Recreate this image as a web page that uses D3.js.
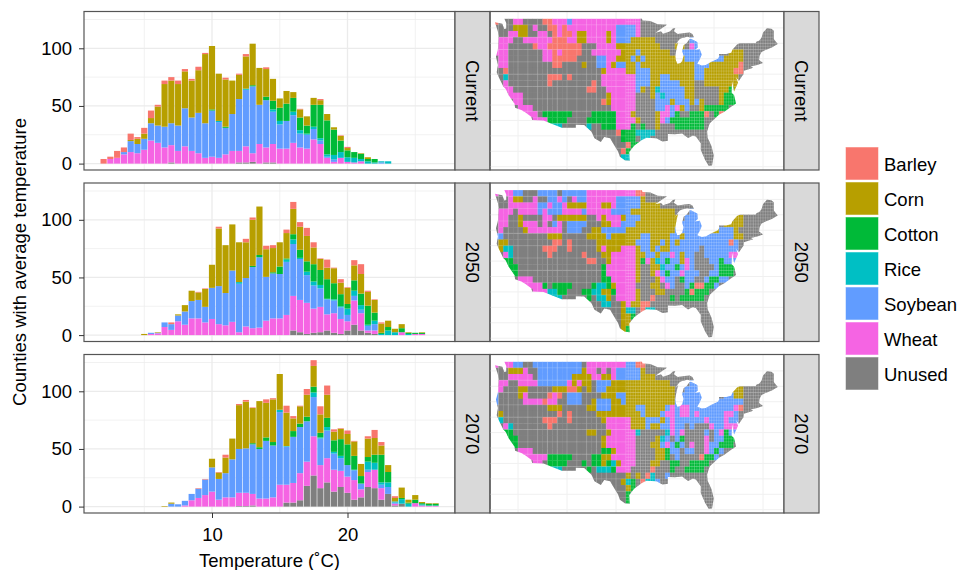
<!DOCTYPE html>
<html>
<head>
<meta charset="utf-8">
<script src="https://cdn.jsdelivr.net/npm/d3@7"></script>
<style>
html, body { margin: 0; padding: 0; background: #fff; overflow: hidden; }
text { font-family: "Liberation Sans", Arial, sans-serif; fill: #000; }
</style>
</head>
<body>
<script>
var crops = ["Barley", "Corn", "Cotton", "Rice", "Soybean", "Wheat", "Unused"];
var cropColors = ["#F8766D", "#B79F00", "#00BA38", "#00BFC4", "#619CFF", "#F564E3", "#7F7F7F"];
var cropCodes = ["B", "C", "T", "R", "S", "W", "U"];
var periods = ["Current", "2050", "2070"];
var xTicks = [10, 20];
var xMinor = [5, 15, 25];
var yTicks = [0, 50, 100];
var yMinor = [25, 75, 125];

// Counties per half degree bin
var tempsCurrent = [2,2.5,3,3.5,4,4.5,5,5.5,6,6.5,7,7.5,8,8.5,9,9.5,10,10.5,11,11.5,12,12.5,13,13.5,14,14.5,15,15.5,16,16.5,17,17.5,18,18.5,19,19.5,20,20.5,21,21.5,22,22.5,23];
var unusedCurrent = [0,0,0,0,0,0,0,0,0,0, 1,0,0,0,0,0,0,0,0,0, 1,1,1.5,0,1,1,0,0,0,0, 0,0,0,0,0,0,0,0,0,0, 0,0,0];
var wheatCurrent = [0,4,5,8,10,9,12,20,18,14, 15,11,15,11,9,5,6,5,8,11, 10,14,7.5,17,13,16,13,13,18,14, 13,21,17,5,1.5,5,1.5,1,2,0, 0,0,0];
var soybeanCurrent = [0,0,0,2,9.5,8,9.5,15,15,18, 19,22,33,29,35,30,40,31,23,32, 45,49,58,34,41,28,21,24,24,12, 12,9,3,1,2,0,0,0,0,0, 0,1,0];
var riceCurrent = [0,0,0,0,0,0,0,0,0,0, 0,0,0,0,0,0,0,1,0,0, 0,1,0,0,0,2,3,0,3,3, 1,2,2,2,4,5,4,4,2,2, 1,1,2];
var cottonCurrent = [0,0,0,0,0,0,0,0,0,0, 0,0,0,0,0,0,1,0,1,0, 0,0,1,0,3,7.5,11.5,15,12,11, 7,19,29,29.5,22,10,6,5,4.5,2, 3,0,0];
var cornCurrent = [0,0,0,0,1,4.5,4.5,4.5,16.5,37, 37,36,32,32,37,60,55,41,41,29, 21,28,36,32,24,19,8,11,5,7, 8,6,4,5.5,2,4,2,0,0.5,1.5, 0,0,0];
var barleyCurrent = [4,2,6,4,5.5,1.5,5,6.5,1.5,3, 3,3,2,1.5,3,1,0,0,1.5,0, 1,2,0,0,1.5,0,0,0,0,0.5, 0,0,1,0,0,0.5,1,0,0,0, 0,0,0];

var temps2050 = [5,5.5,6,6.5,7,7.5,8,8.5,9,9.5,10,10.5,11,11.5,12,12.5,13,13.5,14,14.5,15,15.5,16,16.5,17,17.5,18,18.5,19,19.5,20,20.5,21,21.5,22,22.5,23,23.5,24,24.5,25,25.5];
var unused2050 = [0,0,0,0,0,0,0,0,0,0, 0,0,0,0,0,0,0,0,0,0, 0,0,4,2.5,1,2,2.5,4,2,1, 4,9,4,2,1,0,0,0,0,0, 0,0];
var wheat2050 = [0,1,1.5,7,4.5,12,9,14.5,14.5,11, 14,9.5,8.5,11.5,2.5,7.5,6,6.5,12.5,14.5, 14.5,17.5,30,28,27,21,22,14,17,13, 8,21,15,2,3,0,0,0,2.5,0, 1,1];
var soybean2050 = [0,1,0.5,4,5,5,11.5,15,16,13.5, 27,33,28,44.5,42,42,53,61,38,39, 38.5,46,45,35.5,24,20,16,13,11,10, 5.5,4,3,4,5.5,0,0,0,0,0, 0,0];
var rice2050 = [0,0,0,0,0,0,0,0,0,0, 0,0,0,0,1.5,0,0,0,0,0, 0,2,4,1,3,3.5,3,0.5,1,1, 5.5,4.5,4,1,3,1,4,2.5,0,1, 0,0];
var cotton2050 = [0,0,0,0,0,0,0,0,0,0, 0,0,0,0,0,0,1,2,0,1, 6.5,1,4.5,7,9,15,13,17,14,10.5, 4,9,10,16.5,7,1,3,0,3.5,1, 1,1];
var corn2050 = [1,0,0.5,0,0,1,5.5,9,6.5,15.5, 20,50,41.5,40,34.5,31,40,42,24,21, 21,22,22,20,22,14.5,9.5,10,13,10, 14,13,17,12,11,8,5.5,3,3.5,0.5, 0,0.5];
var barley2050 = [0,0,0,0,1.5,0,0,0,0.5,0.5, 0,1.5,0,0,0,3,2,0,3,2.5, 0,3,6,4,7,4.5,0.5,7,0.5,3, 0.5,4.5,8.5,1,0.5,1,0,0,0,0, 0,0];

var temps2070 = [6.5,7,7.5,8,8.5,9,9.5,10,10.5,11,11.5,12,12.5,13,13.5,14,14.5,15,15.5,16,16.5,17,17.5,18,18.5,19,19.5,20,20.5,21,21.5,22,22.5,23,23.5,24,24.5,25,25.5,26,26.5];
var unused2070 = [0,0,0,0,0,0,0,0,0,0, 0,0.5,0.5,1,0,0,0,0,3.5,3.5, 5.5,18,27,16,21,13,17,12,6,8, 17,16,6,11,1,2.5,0,0,0,0, 0];
var wheat2070 = [0,0,0,1,5.5,7.5,10,13,6,8, 8,11.5,11.5,10,7,7,8,19,15.5,17, 23.5,21,34,20,21,19,14,14,17,7, 13,16,10,0,1.5,0,0,3,1,0.5, 0.5];
var soybean2070 = [0,2.5,2,4,5.5,8,13.5,21,18,21, 33,38,38.5,43,43,50,45,63,33,40, 40,35,34,23,24,14,11,10,8.5,5, 2,0,3,6,1,0,0,0,0,0, 0];
var rice2070 = [0,0,0,0,0,0,0,0,0,0, 0,0,0,0,0,0,0,2,0.5,0, 0,0,4,1,3,1.5,2,0,0.5,0, 7,6,2,4,1,4,2.5,0,1,0.5, 0.5];
var cotton2070 = [0,0,0,0,0,0,0,0,0,0, 0,0,0,1,1.5,3,3,0,0,5, 3,4,5,4,8,10,14.5,18,12,6.5, 4,7,24,9,0,1,1,3,1,1.5, 1.5];
var corn2070 = [0.5,1,0,0,0,0,0,7.5,5.5,13.5, 18,38,40.5,30.5,40,30,37,31,29,11, 15,19,18,16,20,7.5,9,9,12.5,10.5, 16,14.5,8,6,3,9,2.5,4,1,0.5, 0.5];
var barley2070 = [0,0,0,0,0,0.5,0.5,0,0.5,2.5, 0,1,1.5,0.5,0,3,1,0,6,2, 0.5,5,5,7,8,2,0.5,3,0.5,0, 2,7,3,0,1.5,0,0,0,0,0, 0];

var stacksByPeriod = [
    { temps: tempsCurrent, Unused: unusedCurrent, Wheat: wheatCurrent, Soybean: soybeanCurrent, Rice: riceCurrent, Cotton: cottonCurrent, Corn: cornCurrent, Barley: barleyCurrent },
    { temps: temps2050, Unused: unused2050, Wheat: wheat2050, Soybean: soybean2050, Rice: rice2050, Cotton: cotton2050, Corn: corn2050, Barley: barley2050 },
    { temps: temps2070, Unused: unused2070, Wheat: wheat2070, Soybean: soybean2070, Rice: rice2070, Cotton: cotton2070, Corn: corn2070, Barley: barley2070 }
];

// Crop grown in each 1x1 degree cell, one string per latitude band from 49N down.
// Groups are 5 degrees of longitude starting at 125W. Short rows are Unused to the east.
var mapCurrent = [
    "BUUUW WUUUU BBWWW SWWWW WWWWW WWWWW UUUUU",
    "UUUUC CCUWU UBBWB WWWWW WWWWW SSSSW UUUUU",
    "UUUWW CCUUW WUBWB BWCCW WWWCW SSSSW UUUUU",
    "UWWWU UWWWW WWBBB WWCCW WWWCW SSSCC CCCUU UUUUU SSUUU",
    "UWWUU UUUBW WBBBB BBBUU UWWWW CCCCC CCCCU UUCCU WSSUU",
    "WWWUU UUUUU WWBWB BBBUU WWWWW WCCCS CCCCC CUUSS SSSUU UUUCC CUUUU",
    "UWWUU UUUUU WWBBB BBUUU USSWW CCCSC SCCCC CCCCS SSSSS SSCCC CUUUU",
    "UWWUU UUUUU UUBBU UUUCU USSWC SSCCS CCCCC CCCCC CSSSC CCCCC BUUUU",
    "UUBUU UUUUU UUUUU UUUUU UUCWW WWCCS SSCCC CCCCC CSSCC CCCCB BUUUU",
    "UURUU UUUUU UBBBU BUUUU UUWWW WWWWS SSCCS SCCCC CSSCC CCCCC UUUUU",
    "UUWUU UUUUU UBUUU UUUUU BUWWW WWWWS SSCCS SSSCC CUUCC CCCCC UUUUU",
    "UUWWU UUUUU UUUUU UUUUB BUUWW WWWWS CUCRS SSSSC CUUUU UCCTC UUUUU",
    "UUUWW WUUUU UUUUU UUUUU UUUCW WWWWU UUCSR SSSSC CUUUU UCTTT UUUUU",
    "UUUUW WUUUU UUUUU UUUUU UUBCW WWWWU UUUSS SCSSS CSCUU UCTTT UUUUU",
    "UUUUU WWWUU UUUUU UUUUU UUUUW WWWWU UUUSS WSWCS UUCTT TTTUU UUUUU",
    "UUUUU UWWWU TTTTT TUUUU TTTTT WWWCU UUUCW WSTUU TTTBU TBUUU UUUUU",
    "UUUUU UUUWW WTTTT UUUUT TTTTT WWWWC UUUCW STTTT TTTUU UUUUU UUUUU",
    "UUUUU UUUUU URRRU UUUUR UUTTT WWWTU TUUCU UUTTT TTTUU UUUUU UUUUU",
    "UUUUU UUUUU UUUUU UUUUU UUUUU BTTTR RRRUU UUUUU",
    "UUUUU UUUUU UUUUU UUUUU UUUUU UTTTU RRUUU UUUUU",
    "UUUUU UUUUU UUUUU UUUUU UUUUU UUBTT UUUUU UUUUU",
    "UUUUU UUUUU UUUUU UUUUU UUUUU UBTUU UUUUU UUUUU",
    "UUUUU UUUUU UUUUU UUUUU UUUUU URRUU UUUUU UUUUU",
    "UUUUU UUUUU UUUUU UUUUU UUUUU UUUUU UUUUU UUUUU"
];
var map2050 = [
    "WUWWS SUUUS SSSUS SSSSW WWWWW WWWWB BUUUU",
    "UUUWC CUUWU USSWS UWSSW WWWWW SSSSS CUUUU",
    "UUUWW WWWWS SWSSW CCCCW WWCCW SSSSS CCCCU",
    "UWWWU WWWWS WSSSW WWWSW WWWWS SSSCC CCCCC CCUUU SSSUU",
    "UWWUU CUUUU WWUCC CCCCU UWCWW WCSSS CCCCC CCCUS SSSUU UUUUC CUUUU",
    "UWWUU CWWWU WUSWU SSSSU UUCCW WSSSC CCCCC CCCSS SSSUU UUCCC CUUUU",
    "UWUUU UCWWW WWWWU SSSUU CCSSS SSCCC CCCCC CCSSS SSSSC CSSSC UUUUU",
    "SSUUU UUUUU UCCCU UUUUC CCCSC CCCCC SSCCC CSSCS SSSSS SSSSC CUUUU",
    "UCCUU UUUUU UUBBU BUUUU UCCCC CCCCS SSCCS CSCSS SSSSS SSSBS UUUUU",
    "UCRRU UUUUU BBBUU BUUUU UCWCC CWWWC SSCSC CSSSS SSUSS SSSSS UUUUU",
    "UUWRU UUUUU UBUUU UUUBU UUCCW WWWWC CSSCS SWSCS SUUSS SSSWW UUUUU",
    "UUTTU UUUUU UUUUU UUUUB BUUCW WWWWC TWCRS TSSCW SUUUS STSSS UUUUU",
    "UUTTT UUUUU UUUUU UUUUU UUTWW WWWWC UUCCR SSTSW SUUUU STTTT UUUUU",
    "UUUTT UUUUU UUUUU UUUUU UUTWW WWWWC UUCWS TSSWS SSUUS STTTU UUUUU",
    "UUUUU WWWUU UUUUU UUUUU UUTTW WWWWC UUUCW SSUTS SUUST TSSUU UUUUU",
    "UUUUU UWWWW TUTTT TUUUU TRRTC WWWWU UUCCU WSUUS TBBTT SUUUU UUUUU",
    "UUUUU UUUWW WRRTT UUUTT RRCCT WWWWC UUUCC UUUUT BTTTU UUUUU UUUUU",
    "UUUUU UUUUU URRRU UUUUT URRCU WWWWC UUBUU UTUTT TTTUU UUUUU UUUUU",
    "UUUUU UUUUU UUUUU UUUUU UURRU UCWCC BBUUU UUUUU",
    "UUUUU UUUUU UUUUU UUUUU UUUUU UCRRU BRRUU UUUUU",
    "UUUUU UUUUU UUUUU UUUUU UUUUU UCCTU UUUUU UUUUU",
    "UUUUU UUUUU UUUUU UUUUU UUUUU UCCUU UUUUU UUUUU",
    "UUUUU UUUUU UUUUU UUUUU UUUUU UCTUU UUUUU UUUUU",
    "UUUUU UUUUU UUUUU UUUUU UUUUU UUUUU UUUUU UUUUU"
];
var map2070 = [
    "WUWWS SUUSS SSSSS SSSUW WWWWW WWSSB BUUUU",
    "UUUCC CWUUS SSSSS SSSCW WUWUW SSSSS CUUUU",
    "UUUWW WWWUS SSSSS SCCCC WWCCW SSSSS CCCUU",
    "UWWUU WWWWS SSSSS WCWCC USSSC CCCCC CCCCC CUUUU SSSUU",
    "WWUUU CCUUU UUCCC BBCUC USSCC CCCCC CCCCC CCUUS SSSUU UUUCC CUUUU",
    "SUUUU CWUUU UBWBU SSSUU UUCCC SSCCC CCCCC CCUSS SSSUU UUSSC CUUUU",
    "SUUUU UWWWW BWWUU SSSUU CSSSC CSCCC CCCCC CCSSS SSSCS SSSSS SUUUU",
    "UUUUU UUUUU UCCCU UUUUC CSSSC CCCCS SCCCC SWSWW SSSSS SSSSW BUUUU",
    "UCUUU UUUUU UUUBU BUUUU UCCCC CCCCC SCCCS WWSWW SWSSS SSWWS UUUUU",
    "URUUU UUUUU BBBUU BUUUU UUCWW WWWCC CSSSC SWSSS SSSWS SSWSS UUUUU",
    "UUWRU UUUUU UBUUU UUUUU UUUWW WWWCC CSCCS SWSSU SUUUW SSWWW UUUUU",
    "UUTTU UUUUU UUUUU UUUUC CUUCW WWWWR UUUUU RWSWU UUUSU SWTSS UUUUU",
    "UUTTT UUUUU UUUUU UUUUU UUCWW WWWWU UUUCR SUSTU UUUWU SSTTT UUUUU",
    "UUUTT UUUUU UUUUU UUUUU UUCWW WWWWU UUCCS WSTSU WUUWS STTTU UUUUU",
    "UUUUU WWWUU UUUUU UUUUU UUTTC WWWWU UUUCC TSSUS SUUWS TSUUU UUUUU",
    "UUUUU UWWWW WTTTT TUUUU TTCCW WWWWU UUUCC TUSUU UUBTT SUUUU UUUUU",
    "UUUUU UUUWW UTTTT UUUTU TTCTR CWWWU UUCCU UTTUU TTTTU UUUUU UUUUU",
    "UUUUU UUUUU URRRU UUUUT URRRT WWWUU UUBUU UTUUT TTTUU UUUUU UUUUU",
    "UUUUU UUUUU UUUUU UUUUU UUUUU UUCUC UBRUU SUUUU",
    "UUUUU UUUUU UUUUU UUUUU UUUUU UCRTU BRRSU UUUUU",
    "UUUUU UUUUU UUUUU UUUUU UUUUU UUCTU UUUUU UUUUU",
    "UUUUU UUUUU UUUUU UUUUU UUUUU UUTUU UUUUU UUUUU",
    "UUUUU UUUUU UUUUU UUUUU UUUUU UUTTU UUUUU UUUUU",
    "UUUUU UUUUU UUUUU UUUUU UUUUU UUUUU UUUUU UUUUU"
];
var mapsByPeriod = [mapCurrent, map2050, map2070];

// Lower 48 outline, [lon, lat]
var usOutline = [[-124.7,48.4],[-123.2,48.15],[-122.8,47.3],[-122.4,47.4],[-122.4,48.3],[-122.8,49],[-95.2,49],[-95.15,49.4],[-94.8,49.3],[-94.6,48.7],[-93,48.6],[-91.5,48.1],[-89.6,48],[-92,46.7],[-90.8,46.9],[-90.4,46.55],[-89,46.9],[-88.4,47.4],[-87.9,47.47],[-88.2,46.95],[-87.4,46.5],[-86,46.65],[-85,46.75],[-84.4,46.5],[-84.1,46],[-84.7,45.95],[-85.5,46.05],[-86.5,45.85],[-87,45.7],[-87.6,45.1],[-88,44.55],[-87.3,45.2],[-87.6,44.3],[-87.9,43],[-87.8,42.3],[-87.5,41.7],[-86.9,41.75],[-86.5,42.1],[-86.2,43],[-86.5,43.7],[-86.2,44.7],[-85.6,45],[-85,45.7],[-84.7,45.75],[-83.4,45.2],[-83.3,44.3],[-83.9,43.9],[-82.9,44.05],[-82.5,43.2],[-82.9,42.4],[-83.2,42],[-83.4,41.7],[-82.5,41.4],[-81.7,41.5],[-80.5,42],[-79.2,42.5],[-78.9,42.9],[-79,43.27],[-77.5,43.25],[-76.5,43.45],[-76.2,44],[-75.3,44.8],[-74.7,45],[-71.5,45],[-71.3,45.3],[-70.8,45.4],[-70.3,45.9],[-70,46.7],[-69.2,47.45],[-68.3,47.35],[-67.8,47.05],[-67.8,45.7],[-67,44.9],[-68.2,44.3],[-69.5,43.9],[-70.3,43.6],[-70.7,43],[-70.8,42.3],[-70,41.8],[-71.2,41.5],[-72.5,41.25],[-72,41.05],[-73.9,40.55],[-74,40],[-74.9,38.95],[-75.5,39.5],[-75.1,38.6],[-75.9,37.2],[-76.3,38.9],[-76.4,37],[-75.9,36.6],[-75.5,35.25],[-76.5,34.7],[-77.9,33.9],[-79,33.4],[-80.9,32],[-81.4,30.7],[-81.3,29.7],[-80.5,28.3],[-80.05,26.8],[-80.4,25.2],[-81.1,25.15],[-81.8,26.1],[-82.7,27.7],[-82.7,28.8],[-83.7,29.9],[-84.3,30.05],[-85.3,29.65],[-86.5,30.4],[-88,30.25],[-89.4,30.3],[-89.4,29.2],[-90.5,29.1],[-91.8,29.6],[-93.8,29.7],[-94.8,29.3],[-96.3,28.4],[-97.3,27.4],[-97.2,25.95],[-98.2,26.05],[-99.2,26.6],[-99.6,27.5],[-100.4,28.5],[-101.2,29.6],[-102.4,29.8],[-103.1,29],[-104.4,29.6],[-105,30.65],[-106.5,31.75],[-108.2,31.78],[-108.2,31.33],[-111.07,31.33],[-114.8,32.5],[-117.1,32.55],[-117.3,33.1],[-118.4,33.75],[-119.2,34.15],[-120.6,34.55],[-120.7,35.2],[-121.9,36.6],[-122.5,37.6],[-123,38],[-123.8,39.3],[-124.35,40.3],[-124.1,41.5],[-124.5,42.8],[-124.1,44],[-123.95,46.2],[-124.1,46.9],[-124.7,48.4]];
var mapLons = [-120, -110, -100, -90, -80, -70];
var mapLats = [25, 27.5, 30, 32.5, 35, 37.5, 40, 42.5, 45, 47.5];

var width = 959, height = 570;
var panelTops = [11.5, 183, 354.5];
var panelH = 158.5;
var barLeft = 84, barW = 371, stripW = 35, mapLeft = 490, mapW = 294;
var fontSize = "18.5px";

var svg = d3.select("body").append("svg")
    .attr("width", width)
    .attr("height", height);

var color = d3.scaleOrdinal().domain(crops).range(cropColors);
var codeToCrop = d3.scaleOrdinal().domain(cropCodes).range(crops);

var x = d3.scaleLinear().domain([10, 20]).range([128, 263.5]);
var y = d3.scaleLinear().domain([0, 100]).range([panelH - 6.4, panelH - 6.4 - 115.3]);
var lonScale = d3.scaleLinear().domain([-120, -70]).range([28, 273]);
var latScale = d3.scaleLinear().domain([45, 25]).range([31.8, 155.2]);
var geoToPanel = d3.geoTransform({
    point: function (lon, lat) { this.stream.point(lonScale(lon), latScale(lat)); }
});
var outlinePath = d3.geoPath().projection(geoToPanel);
var outlineFeature = { type: "LineString", coordinates: usOutline };

var stackKeys = crops.slice().reverse();
var gridColor = "#EBEBEB", borderColor = "#555";

// Pale county-like mesh: big counties in the west, small ones in the east
var meshPath = d3.path();
d3.range(-125, -66.9, 0.5).forEach(function (lon) {
    if (lon < -98 && lon % 2 !== 0) return;
    meshPath.moveTo(lonScale(lon), latScale(49.5));
    meshPath.lineTo(lonScale(lon), latScale(24.5));
});
d3.range(25, 49.1, 0.5).forEach(function (lat) {
    var west = lat % 2 === 0 ? -125 : -98;
    meshPath.moveTo(lonScale(west), latScale(lat));
    meshPath.lineTo(lonScale(-67), latScale(lat));
});

function strip(g, label) {
    g.append("rect")
        .attr("width", stripW)
        .attr("height", panelH)
        .attr("fill", "#D9D9D9")
        .attr("stroke", borderColor)
        .attr("stroke-width", 1.2);
    g.append("text")
        .attr("transform", "translate(" + (stripW / 2) + "," + (panelH / 2) + ") rotate(90)")
        .attr("text-anchor", "middle")
        .attr("dominant-baseline", "central")
        .style("font-size", fontSize)
        .text(label);
}

function drawBars(g, p, i) {
    // Minor grid
    g.selectAll(".vminor").data(xMinor).enter().append("line")
        .attr("x1", x).attr("x2", x).attr("y1", 0).attr("y2", panelH)
        .attr("stroke", gridColor).attr("stroke-width", 0.7);
    g.selectAll(".hminor").data(yMinor).enter().append("line")
        .attr("x1", 0).attr("x2", barW).attr("y1", y).attr("y2", y)
        .attr("stroke", gridColor).attr("stroke-width", 0.7);
    // Major grid
    g.selectAll(".vmajor").data(xTicks).enter().append("line")
        .attr("x1", x).attr("x2", x).attr("y1", 0).attr("y2", panelH)
        .attr("stroke", gridColor).attr("stroke-width", 1.3);
    g.selectAll(".hmajor").data(yTicks).enter().append("line")
        .attr("x1", 0).attr("x2", barW).attr("y1", y).attr("y2", y)
        .attr("stroke", gridColor).attr("stroke-width", 1.3);

    var table = p.temps.map(function (t, k) {
        var row = { temp: t };
        stackKeys.forEach(function (c) { row[c] = p[c][k]; });
        return row;
    });
    var series = d3.stack().keys(stackKeys)(table);

    g.selectAll(".crop").data(series).enter().append("g")
        .attr("fill", function (d) { return color(d.key); })
        .selectAll("rect").data(function (d) { return d; }).enter().append("rect")
        .filter(function (d) { return d[1] > d[0]; })
        .attr("x", function (d) { return x(d.data.temp - 0.25) + 0.3; })
        .attr("width", x(0.5) - x(0) - 0.6)
        .attr("y", function (d) { return y(d[1]); })
        .attr("height", function (d) { return y(d[0]) - y(d[1]); });

    g.append("rect")
        .attr("width", barW).attr("height", panelH)
        .attr("fill", "none").attr("stroke", borderColor).attr("stroke-width", 1.2);

    var yAxis = g.append("g").call(d3.axisLeft(y).tickValues(yTicks).tickSize(5).tickPadding(7));
    yAxis.select(".domain").remove();
    yAxis.selectAll("text").style("font-size", fontSize).attr("fill", "#000");
    yAxis.selectAll("line").attr("stroke", "#333");

    if (i === 2) {
        var xAxis = g.append("g")
            .attr("transform", "translate(0," + panelH + ")")
            .call(d3.axisBottom(x).tickValues(xTicks).tickSize(5).tickPadding(10));
        xAxis.select(".domain").remove();
        xAxis.selectAll("text").style("font-size", fontSize).attr("fill", "#000");
        xAxis.selectAll("line").attr("stroke", "#333");
    }
}

function drawMap(g, rows, i) {
    g.selectAll(".lon").data(mapLons).enter().append("line")
        .attr("x1", lonScale).attr("x2", lonScale).attr("y1", 0).attr("y2", panelH)
        .attr("stroke", "#F0F0F0").attr("stroke-width", 1);
    g.selectAll(".lat").data(mapLats).enter().append("line")
        .attr("x1", 0).attr("x2", mapW).attr("y1", latScale).attr("y2", latScale)
        .attr("stroke", "#F0F0F0").attr("stroke-width", 1);

    var clipId = "us-clip-" + i;
    g.append("clipPath").attr("id", clipId)
        .append("path")
        .attr("d", outlinePath(outlineFeature) + "Z");

    var cells = [];
    rows.forEach(function (row, r) {
        var codes = row.replace(/ /g, "");
        d3.range(58).forEach(function (c) {
            cells.push({ lon: -125 + c, lat: 49 - r, crop: codeToCrop(codes.charAt(c) || "U") });
        });
    });

    var land = g.append("g").attr("clip-path", "url(#" + clipId + ")");
    land.selectAll("rect").data(cells).enter().append("rect")
        .attr("x", function (d) { return lonScale(d.lon); })
        .attr("y", function (d) { return latScale(d.lat); })
        .attr("width", lonScale(1) - lonScale(0) + 0.3)
        .attr("height", latScale(0) - latScale(1) + 0.3)
        .attr("fill", function (d) { return color(d.crop); });
    land.append("path")
        .attr("d", meshPath.toString())
        .attr("fill", "none")
        .attr("stroke", "#fff")
        .attr("stroke-opacity", 0.35)
        .attr("stroke-width", 0.5);

    g.append("rect")
        .attr("width", mapW).attr("height", panelH)
        .attr("fill", "none").attr("stroke", borderColor).attr("stroke-width", 1.2);
}

periods.forEach(function (label, i) {
    var top = panelTops[i];
    var bars = svg.append("g").attr("transform", "translate(" + barLeft + "," + top + ")");
    drawBars(bars, stacksByPeriod[i], i);
    strip(svg.append("g").attr("transform", "translate(" + (barLeft + barW) + "," + top + ")"), label);
    var map = svg.append("g").attr("transform", "translate(" + mapLeft + "," + top + ")");
    drawMap(map, mapsByPeriod[i], i);
    strip(svg.append("g").attr("transform", "translate(" + (mapLeft + mapW) + "," + top + ")"), label);
});

// Axis titles
svg.append("text")
    .attr("x", barLeft + barW / 2)
    .attr("y", 567)
    .attr("text-anchor", "middle")
    .style("font-size", fontSize)
    .text("Temperature (\u02DAC)");
svg.append("text")
    .attr("transform", "translate(26,262) rotate(-90)")
    .attr("text-anchor", "middle")
    .style("font-size", fontSize)
    .text("Counties with average temperature");

// Legend
var legend = svg.append("g").attr("transform", "translate(845,146.5)");
var key = legend.selectAll("g").data(crops).enter().append("g")
    .attr("transform", function (d, i) { return "translate(0," + (i * 35) + ")"; });
key.append("rect")
    .attr("x", 0.5).attr("y", 0.5)
    .attr("width", 33).attr("height", 33)
    .attr("fill", color)
    .attr("stroke", "#fff")
    .attr("stroke-opacity", 0.5);
key.append("text")
    .attr("x", 39)
    .attr("y", 17.5)
    .attr("dominant-baseline", "central")
    .style("font-size", fontSize)
    .text(function (d) { return d; });
</script>
</body>
</html>
